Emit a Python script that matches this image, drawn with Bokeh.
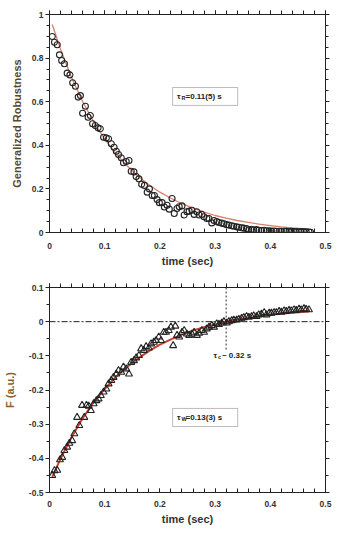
from bokeh.plotting import figure
from bokeh.layouts import column
from bokeh.models import (Range1d, LinearAxis, BoxAnnotation, Label, Span,
                          CustomJSTickFormatter, FixedTicker)
from bokeh.embed import file_html
from bokeh.resources import INLINE

# ---------------- data ----------------
t_r = [0.005, 0.009, 0.014, 0.018, 0.022, 0.027, 0.032, 0.037, 0.042, 0.047,
       0.052, 0.056, 0.060, 0.065, 0.070, 0.074, 0.078, 0.083, 0.088, 0.092,
       0.098, 0.103, 0.107, 0.112, 0.117, 0.121, 0.125, 0.130, 0.134, 0.139,
       0.144, 0.148, 0.153, 0.157, 0.162, 0.167, 0.172, 0.177, 0.181, 0.186,
       0.190, 0.195, 0.199, 0.204, 0.208, 0.213, 0.217, 0.222, 0.226, 0.231,
       0.235, 0.240, 0.244, 0.249, 0.253, 0.258, 0.262, 0.267, 0.271, 0.276,
       0.280, 0.285, 0.289, 0.294, 0.298, 0.303, 0.307, 0.312, 0.316, 0.321,
       0.325, 0.330, 0.334, 0.339, 0.343, 0.348, 0.352, 0.357, 0.361, 0.366,
       0.370, 0.375, 0.379, 0.384, 0.389, 0.393, 0.398, 0.402, 0.407, 0.411,
       0.416, 0.420, 0.425, 0.429, 0.434, 0.438, 0.443, 0.447, 0.452, 0.456,
       0.461, 0.465, 0.470, 0.473]
robustness = [0.899, 0.873, 0.861, 0.815, 0.789, 0.774, 0.731, 0.723, 0.687, 0.671,
              0.621, 0.628, 0.547, 0.579, 0.529, 0.537, 0.499, 0.491, 0.480, 0.476,
              0.437, 0.434, 0.430, 0.407, 0.391, 0.373, 0.358, 0.343, 0.320, 0.326,
              0.330, 0.281, 0.278, 0.257, 0.246, 0.221, 0.216, 0.185, 0.200, 0.170,
              0.170, 0.151, 0.137, 0.137, 0.117, 0.125, 0.107, 0.156, 0.087, 0.110,
              0.118, 0.122, 0.080, 0.095, 0.098, 0.102, 0.083, 0.095, 0.080, 0.083,
              0.072, 0.064, 0.064, 0.044, 0.055, 0.050, 0.046, 0.043, 0.040, 0.036,
              0.034, 0.031, 0.029, 0.026, 0.024, 0.022, 0.020, 0.018, 0.012, 0.015,
              0.012, 0.013, 0.010, 0.009, 0.010, 0.008, 0.008, 0.007, 0.007, 0.006,
              0.006, 0.005, 0.006, 0.005, 0.004, 0.005, 0.004, 0.004, 0.003, 0.004,
              0.003, 0.003, 0.002, 0.001]

fit_t_r = [0.005, 0.02, 0.04, 0.06, 0.08, 0.10, 0.12, 0.14, 0.16, 0.18, 0.20,
           0.22, 0.24, 0.26, 0.28, 0.30, 0.32, 0.34, 0.36, 0.38, 0.40, 0.42,
           0.44, 0.47]
fit_r = [0.954, 0.841, 0.711, 0.601, 0.508, 0.429, 0.363, 0.307, 0.259, 0.219,
         0.185, 0.157, 0.132, 0.112, 0.094, 0.078, 0.066, 0.055, 0.046, 0.038,
         0.032, 0.026, 0.021, 0.015]

t_f = [0.005, 0.009, 0.014, 0.019, 0.023, 0.027, 0.032, 0.036, 0.041, 0.045,
       0.050, 0.054, 0.059, 0.063, 0.067, 0.071, 0.075, 0.080, 0.085, 0.089,
       0.093, 0.098, 0.103, 0.107, 0.112, 0.116, 0.121, 0.125, 0.130, 0.134,
       0.139, 0.144, 0.148, 0.153, 0.157, 0.162, 0.166, 0.171, 0.175, 0.180,
       0.184, 0.189, 0.193, 0.198, 0.202, 0.207, 0.211, 0.216, 0.220, 0.224,
       0.228, 0.231, 0.235, 0.240, 0.244, 0.249, 0.253, 0.258, 0.262, 0.267,
       0.271, 0.276, 0.280, 0.285, 0.289, 0.294, 0.298, 0.303, 0.307, 0.312,
       0.316, 0.321, 0.325, 0.330, 0.334, 0.339, 0.343, 0.348, 0.352, 0.357,
       0.361, 0.366, 0.370, 0.375, 0.379, 0.384, 0.389, 0.393, 0.398, 0.402,
       0.407, 0.411, 0.416, 0.420, 0.425, 0.429, 0.434, 0.438, 0.443, 0.447,
       0.452, 0.456, 0.461, 0.465, 0.470]
force = [-0.450, -0.436, -0.435, -0.404, -0.397, -0.377, -0.367, -0.356, -0.348, -0.328,
         -0.280, -0.304, -0.245, -0.280, -0.245, -0.247, -0.260, -0.240, -0.231, -0.226,
         -0.216, -0.206, -0.197, -0.182, -0.172, -0.163, -0.153, -0.143, -0.148, -0.133,
         -0.138, -0.153, -0.119, -0.114, -0.106, -0.099, -0.079, -0.084, -0.073, -0.077,
         -0.065, -0.060, -0.055, -0.045, -0.055, -0.031, -0.031, -0.026, -0.016, -0.070,
         -0.013, -0.040, -0.045, -0.031, -0.026, -0.036, -0.040, -0.036, -0.031, -0.040,
         -0.034, -0.026, -0.031, -0.021, -0.016, -0.011, -0.016, -0.006, -0.008, -0.004,
         0.000, -0.004, 0.000, 0.003, 0.005, 0.005, 0.007, 0.010, 0.012, 0.015,
         0.013, 0.015, 0.017, 0.015, 0.020, 0.022, 0.027, 0.020, 0.025, 0.025,
         0.027, 0.027, 0.030, 0.028, 0.032, 0.030, 0.033, 0.032, 0.035, 0.033,
         0.037, 0.035, 0.038, 0.036, 0.035]

fit_t_f = [0.005, 0.02, 0.04, 0.06, 0.08, 0.10, 0.12, 0.14, 0.16, 0.18, 0.20,
           0.22, 0.24, 0.26, 0.28, 0.30, 0.32, 0.34, 0.36, 0.38, 0.40, 0.42,
           0.44, 0.47]
fit_f = [-0.455, -0.401, -0.338, -0.283, -0.236, -0.197, -0.162, -0.133, -0.108,
         -0.086, -0.067, -0.052, -0.038, -0.026, -0.016, -0.008, 0.000, 0.006,
         0.011, 0.016, 0.020, 0.023, 0.026, 0.030]

tau_c = 0.32
tau_c_line_bottom = -0.085

x_major = [0, 0.1, 0.2, 0.3, 0.4, 0.5]
x_minor = [round(i * 0.02, 2) for i in range(26)]
yr_major = [0, 0.2, 0.4, 0.6, 0.8, 1.0]
yr_minor = [round(i * 0.05, 2) for i in range(21)]
yf_major = [-0.5, -0.4, -0.3, -0.2, -0.1, 0, 0.1]
yf_minor = [round(-0.5 + i * 0.05, 2) for i in range(13)]

FONT = "Liberation Sans"
AXIS_COL = "#222222"
TICK_LBL = "#333333"

fmt = CustomJSTickFormatter(code="return Number(tick.toFixed(2)).toString();")
blank_fmt = CustomJSTickFormatter(code="return '';")


def style_axis(ax, tin, tout, mtin, mtout, labels=True, standoff=2):
    ax.axis_line_color = AXIS_COL
    ax.major_tick_line_color = AXIS_COL
    ax.minor_tick_line_color = AXIS_COL
    ax.major_tick_in = tin
    ax.major_tick_out = tout
    ax.minor_tick_in = mtin
    ax.minor_tick_out = mtout
    ax.major_label_standoff = standoff
    if labels:
        ax.formatter = fmt
        ax.major_label_text_font = FONT
        ax.major_label_text_font_style = "bold"
        ax.major_label_text_font_size = "8.5px"
        ax.major_label_text_color = TICK_LBL
    else:
        ax.formatter = blank_fmt
        ax.major_label_standoff = 0
        ax.axis_label_standoff = 0


def make_fig(height, yrange, ymaj, ymin, ylabel, ylabel_color, b_top, b_bot,
             ylabel_standoff, xlbl_standoff):
    p = figure(width=344, height=height, output_backend="svg",
               toolbar_location=None, x_range=Range1d(0, 0.5),
               y_range=Range1d(*yrange), min_border_left=49,
               min_border_right=19, min_border_top=b_top,
               min_border_bottom=b_bot)
    p.grid.visible = False
    p.outline_line_color = AXIS_COL
    p.background_fill_color = "white"
    p.border_fill_color = "white"
    xt = FixedTicker(ticks=x_major, minor_ticks=x_minor)
    yt = FixedTicker(ticks=ymaj, minor_ticks=ymin)
    p.xaxis.ticker = xt
    p.yaxis.ticker = yt
    style_axis(p.xaxis[0], 4, 0, 4, 0, True, xlbl_standoff)
    style_axis(p.yaxis[0], 0, 4, 0, 3, True, 2)
    p.xaxis.axis_label = "time (sec)"
    p.xaxis.axis_label_text_font = FONT
    p.xaxis.axis_label_text_font_style = "bold"
    p.xaxis.axis_label_text_font_size = "11px"
    p.xaxis.axis_label_text_color = "#333333"
    p.xaxis.axis_label_standoff = 3
    p.yaxis.axis_label = ylabel
    p.yaxis.axis_label_text_font = FONT
    p.yaxis.axis_label_text_font_style = "bold"
    p.yaxis.axis_label_text_font_size = "11px"
    p.yaxis.axis_label_text_color = ylabel_color
    p.yaxis.axis_label_standoff = ylabel_standoff
    top = LinearAxis(ticker=xt)
    style_axis(top, 0, 4, 0, 4, False)
    p.add_layout(top, "above")
    right = LinearAxis(ticker=yt)
    style_axis(right, 0, 4, 0, 3, False)
    p.add_layout(right, "right")
    return p


def tau_label(p, x, y, sub, rest, size=8):
    common = dict(text_font=FONT, text_font_style="bold", text_color="#222222",
                  text_baseline="middle", text_align="left")
    p.add_layout(Label(x=x, y=y, text="τ", text_font_size=f"{size}px", **common))
    p.add_layout(Label(x=x, y=y, x_offset=4.5, y_offset=-2, text=sub,
                       text_font_size="5.5px", **common))
    p.add_layout(Label(x=x, y=y, x_offset=8.5, text=rest,
                       text_font_size=f"{size}px", **common))


# ---------------- top panel ----------------
p1 = make_fig(278, (0, 1), yr_major, yr_minor, "Generalized Robustness",
              "#5a4828", 14, 46, 6, 10)
p1.line(fit_t_r, fit_r, line_color="#d9806a", line_width=1.3)
p1.scatter(t_r, robustness, marker="circle", size=6, fill_color=None,
           line_color="#222222", line_width=1.1)
p1.add_layout(BoxAnnotation(left=0.223, right=0.341, bottom=0.583, top=0.665,
                            fill_alpha=0, line_color="#222222", line_width=1))
tau_label(p1, 0.231, 0.624, "R", "=0.11(5) s")

# ---------------- bottom panel ----------------
p2 = make_fig(252, (-0.5, 0.1), yf_major, yf_minor, "F (a.u.)",
              "#8a6030", 9, 38, 10, 8)
p2.add_layout(Span(location=0, dimension="width", line_color="#222222",
                   line_width=1, line_dash="6 2 2 2"))
p2.segment(x0=[tau_c], y0=[0.1], x1=[tau_c], y1=[tau_c_line_bottom],
           line_color="#333333", line_width=1, line_dash="2 2")
p2.line(fit_t_f, fit_f, line_color="#c8402e", line_width=2)
p2.scatter(t_f, force, marker="triangle", size=7, fill_color=None,
           line_color="#222222", line_width=1.1)
p2.add_layout(BoxAnnotation(left=0.223, right=0.341, bottom=-0.307, top=-0.254,
                            fill_alpha=0, line_color="#222222", line_width=1))
tau_label(p2, 0.231, -0.280, "W", "=0.13(3) s")
tau_label(p2, 0.297, -0.099, "c", "~ 0.32 s")

layout = column(p1, p2, spacing=0)
open("out.html", "w").write(file_html(layout, INLINE))
